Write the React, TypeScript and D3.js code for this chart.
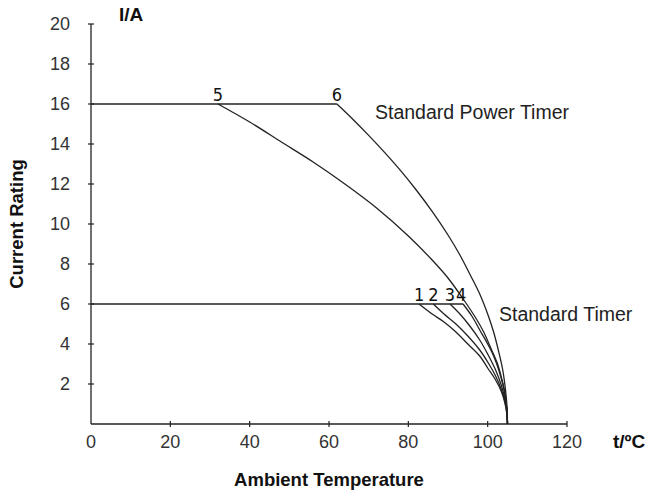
import React from "react";
import * as d3 from "d3";

// Axis ticks
const xTickValues = [0, 20, 40, 60, 80, 100, 120];
const yTickValues = [2, 4, 6, 8, 10, 12, 14, 16, 18, 20];

// Flat (rated) segments: [temperature, current]
const flat16: [number, number][] = [[0, 16], [62, 16]];
const flat6: [number, number][] = [[0, 6], [93.8, 6]];

// Derating curves: [temperature °C, current A]
const curve1: [number, number][] = [
  [82.7, 6], [86, 5.5], [89, 5.1], [92, 4.6], [95, 4.0], [98, 3.4], [100, 2.8],
  [102, 2.2], [103.5, 1.6], [104.4, 1.0], [104.85, 0.5], [105, 0],
];
const curve2: [number, number][] = [
  [86.3, 6], [89, 5.5], [92, 5.0], [95, 4.4], [98, 3.7], [100, 3.1],
  [102, 2.4], [103.5, 1.7], [104.4, 1.1], [104.85, 0.5], [105, 0],
];
const curve3: [number, number][] = [
  [90.5, 6], [93, 5.5], [95.5, 4.9], [98, 4.2], [100, 3.5], [102, 2.7],
  [103.5, 1.9], [104.4, 1.2], [104.85, 0.6], [105, 0],
];
const curve4: [number, number][] = [
  [93.8, 6], [96, 5.4], [98, 4.7], [100, 4.0], [101.5, 3.4], [102.8, 2.7],
  [103.8, 2.0], [104.5, 1.3], [104.85, 0.7], [105, 0],
];
const curve5: [number, number][] = [
  [32, 16], [40, 15.1], [48, 14.1], [56, 13.1], [64, 12.0], [72, 10.8], [80, 9.4],
  [86, 8.2], [90, 7.3], [94, 6.2], [97, 5.3], [99, 4.6], [101, 3.7], [102.5, 3.0],
  [103.5, 2.3], [104.3, 1.6], [104.8, 0.8], [105, 0],
];
const curve6: [number, number][] = [
  [62, 16], [66, 15.24], [70, 14.43], [74, 13.58], [78, 12.68], [82, 11.7], [86, 10.63],
  [90, 9.45], [93, 8.45], [96, 7.3], [98, 6.5], [100, 5.5], [101.5, 4.6], [102.8, 3.6],
  [103.8, 2.7], [104.5, 1.7], [104.9, 0.8], [105, 0],
];

const curves = [curve1, curve2, curve3, curve4, curve5, curve6];
const curveNames = ["1", "2", "3", "4", "5", "6"];

const W = 647;
const H = 492;

export default function App() {
  const x = d3.scaleLinear().domain([0, 120]).range([91, 567]);
  const y = d3.scaleLinear().domain([0, 20]).range([424, 24]);

  const line = d3
    .line<[number, number]>()
    .x((d) => x(d[0]))
    .y((d) => y(d[1]))
    .curve(d3.curveCatmullRom.alpha(0.5));
  const straight = d3
    .line<[number, number]>()
    .x((d) => x(d[0]))
    .y((d) => y(d[1]));

  const stroke = "#222";
  const tickFont = "'Liberation Sans', Arial, Helvetica, sans-serif";
  const narrowFont = "'Liberation Sans Narrow', 'DejaVu Sans Condensed', 'Liberation Sans', sans-serif";

  return (
    <svg
      width={W}
      height={H}
      style={{ position: "absolute", left: 0, top: 0, display: "block", background: "#fff" }}
    >
      {/* axes */}
      <line x1={x(0)} x2={x(0)} y1={y(20)} y2={y(0)} stroke={stroke} strokeWidth={1.3} />
      <line x1={x(0)} x2={x(120)} y1={y(0)} y2={y(0)} stroke={stroke} strokeWidth={1.3} />

      {yTickValues.map((v) => (
        <g key={"yt" + v}>
          <line x1={x(0) - 3} x2={x(0) + 3} y1={y(v)} y2={y(v)} stroke={stroke} strokeWidth={1.2} />
          <text
            x={70}
            y={y(v)}
            dy="0.36em"
            textAnchor="end"
            fontFamily={tickFont}
            fontSize={18}
            fill="#333"
          >
            {v}
          </text>
        </g>
      ))}

      {xTickValues.map((v) => (
        <g key={"xt" + v}>
          {v !== 0 && (
            <line x1={x(v)} x2={x(v)} y1={y(0) - 3} y2={y(0) + 3} stroke={stroke} strokeWidth={1.2} />
          )}
          <text
            x={x(v)}
            y={448}
            textAnchor="middle"
            fontFamily={tickFont}
            fontSize={18}
            fill="#333"
          >
            {v}
          </text>
        </g>
      ))}

      {/* flat segments */}
      <path d={straight(flat16) || ""} fill="none" stroke={stroke} strokeWidth={1.3} />
      <path d={straight(flat6) || ""} fill="none" stroke={stroke} strokeWidth={1.3} />

      {/* derating curves */}
      {curves.map((c, i) => (
        <path key={"c" + i} d={line(c) || ""} fill="none" stroke={stroke} strokeWidth={1.3} />
      ))}

      {/* curve numbers */}
      {curves.map((c, i) => (
        <text
          key={"n" + i}
          x={x(c[0][0]) - (i === 3 ? 2 : 0)}
          y={y(c[0][1]) - 3}
          textAnchor="middle"
          fontFamily={narrowFont}
          fontSize={18}
          fill="#111"
        >
          {curveNames[i]}
        </text>
      ))}

      {/* series labels */}
      <text x={375} y={119} fontFamily={tickFont} fontSize={19.5} fill="#222">
        Standard Power Timer
      </text>
      <text x={499} y={321} fontFamily={tickFont} fontSize={19.5} fill="#222">
        Standard Timer
      </text>

      {/* axis titles */}
      <text x={119} y={21} fontFamily={tickFont} fontSize={19} fontWeight="bold" fill="#111">
        I/A
      </text>
      <text x={613} y={448} fontFamily={tickFont} fontSize={19} fontWeight="bold" fill="#111">
        t/ºC
      </text>
      <text
        transform={`translate(23, ${(y(0) + y(20)) / 2}) rotate(-90)`}
        textAnchor="middle"
        fontFamily={tickFont}
        fontSize={18.5}
        fontWeight="bold"
        fill="#111"
      >
        Current Rating
      </text>
      <text
        x={(x(0) + x(120)) / 2}
        y={486}
        textAnchor="middle"
        fontFamily={tickFont}
        fontSize={18.5}
        fontWeight="bold"
        fill="#111"
      >
        Ambient Temperature
      </text>
    </svg>
  );
}
